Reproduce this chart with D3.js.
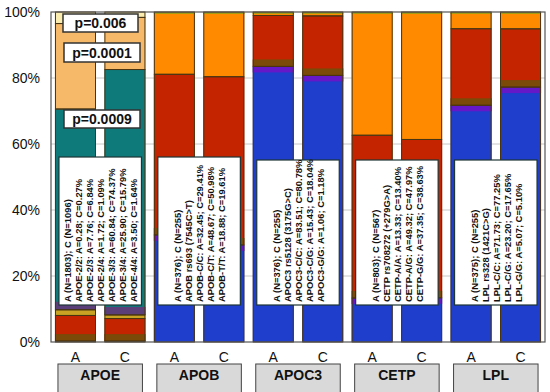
<!DOCTYPE html>
<html>
<head>
<meta charset="utf-8">
<script src="https://cdn.jsdelivr.net/npm/d3@7"></script>
<style>
  body { margin: 0; background: #fff; }
  svg { display: block; font-family: "Liberation Sans", Arial, sans-serif; }
</style>
</head>
<body>
<svg width="550" height="392"></svg>
<script>
"use strict";

// data
const genes = ['APOE', 'APOB', 'APOC3', 'CETP', 'LPL'];
const cohorts = ['A', 'C'];
const yTicks = [0, 0.2, 0.4, 0.6, 0.8, 1];

const apoeA = [0.28, 7.76, 1.72, 60.84, 25.90, 3.50];
const apoeC = [0.27, 6.84, 1.09, 74.37, 15.79, 1.64];
const apobA = [32.45, 48.67, 18.88];
const apobC = [29.41, 50.98, 19.61];
const apoc3A = [83.51, 15.43, 1.06];
const apoc3C = [80.78, 18.04, 1.18];
const cetpA = [13.33, 49.32, 37.35];
const cetpC = [13.40, 47.97, 38.63];
const lplA = [71.73, 23.20, 5.07];
const lplC = [77.25, 17.65, 5.10];

const apoeNotes = ['A (N=1803); C (N=1096)', 'APOE-2/2: A=0.28; C=0.27%', 'APOE-2/3: A=7.76; C=6.84%',
  'APOE-2/4: A=1.72; C=1.09%', 'APOE-3/3: A=60.84; C=74.37%', 'APOE-3/4: A=25.90; C=15.79%',
  'APOE-4/4: A=3.50; C=1.64%'];
const apobNotes = ['A (N=376); C (N=255)', 'APOB rs693 (7545C>T)', 'APOB-C/C: A=32.45; C=29.41%',
  'APOB-C/T: A=48.67; C=50.98%', 'APOB-T/T: A=18.88; C=19.61%'];
const apoc3Notes = ['A (N=376); C (N=255)', 'APOC3 rs5128 (3175G>C)', 'APOC3-C/C: A=83.51; C=80.78%',
  'APOC3-C/G: A=15.43; C=18.04%', 'APOC3-G/G: A=1.06; C=1.18%'];
const cetpNotes = ['A (N=803); C (N=567)', 'CETP rs708272 (+279G>A)', 'CETP-A/A: A=13.33; C=13.40%',
  'CETP-A/G: A=49.32; C=47.97%', 'CETP-G/G: A=37.35; C=38.63%'];
const lplNotes = ['A (N=375); C (N=255)', 'LPL rs328 (1421C>G)', 'LPL-C/C: A=71.73; C=77.25%',
  'LPL-C/G: A=23.20; C=17.65%', 'LPL-G/G: A=5.07; C=5.10%'];

const pLabels = ['p=0.006', 'p=0.0001', 'p=0.0009'];

// colours (bottom segment first)
const apoeColors = ['#6e4c0c', '#c42400', '#c9a424', '#0f7a7a', '#f6b96a', '#f9ecae'];
const threeColors = ['#1f3ecc', '#c42400', '#ff8a00'];
const shade = { '#c42400': ['bottom', '#7c4a08', 7], '#1f3ecc': ['top', '#6418c8', 6],
  '#0f7a7a': ['bottom', '#5a3f78', 8], '#ff8a00': ['top', '#a49c12', 2] };

const geneData = [
  { gene: 'APOE', A: apoeA, C: apoeC, colors: apoeColors, notes: apoeNotes },
  { gene: 'APOB', A: apobA, C: apobC, colors: threeColors, notes: apobNotes },
  { gene: 'APOC3', A: apoc3A, C: apoc3C, colors: threeColors, notes: apoc3Notes },
  { gene: 'CETP', A: cetpA, C: cetpC, colors: threeColors, notes: cetpNotes },
  { gene: 'LPL', A: lplA, C: lplC, colors: threeColors, notes: lplNotes }
];

const svg = d3.select('svg');
const plotLeft = 51, plotRight = 545, plotTop = 12, plotBottom = 342;

const bars = genes.flatMap(g => cohorts.map(c => g + '-' + c));
const x = d3.scaleBand().domain(bars).range([plotLeft, plotRight])
  .paddingInner(0.17).paddingOuter(0.08);
const y = d3.scaleLinear().domain([0, 1]).range([plotBottom, plotTop]);

// grid
svg.append('g').selectAll('line').data(yTicks.slice(1, -1)).join('line')
  .attr('x1', plotLeft).attr('x2', plotRight)
  .attr('y1', d => y(d)).attr('y2', d => y(d))
  .attr('stroke', '#c8c8c8');

// y labels
svg.append('g').selectAll('text').data(yTicks).join('text')
  .attr('x', 40).attr('y', d => y(d)).attr('dy', '0.35em')
  .attr('text-anchor', 'end').attr('font-size', 14).attr('fill', '#111')
  .text(d3.format('.0%'));

// stacked bars
geneData.forEach(gd => {
  cohorts.forEach(c => {
    const vals = gd[c];
    const total = d3.sum(vals);
    let acc = 0;
    const segs = vals.map((v, i) => {
      const s = { y0: acc / total, y1: (acc + v) / total, color: gd.colors[i] };
      acc += v;
      return s;
    });
    const bx = x(gd.gene + '-' + c), bw = x.bandwidth();
    const g = svg.append('g');
    segs.forEach(s => {
      const top = y(s.y1), bot = y(s.y0);
      g.append('rect').attr('x', bx).attr('y', top).attr('width', bw).attr('height', bot - top)
        .attr('fill', s.color);
      const sh = shade[s.color];
      if (sh) {
        const h = Math.min(sh[2], bot - top);
        g.append('rect').attr('x', bx).attr('width', bw)
          .attr('y', sh[0] === 'top' ? top : bot - h).attr('height', h)
          .attr('fill', sh[1]);
      }
    });
    segs.forEach(s => {
      g.append('rect').attr('x', bx + 0.5).attr('y', y(s.y1)).attr('width', bw - 1)
        .attr('height', y(s.y0) - y(s.y1))
        .attr('fill', 'none').attr('stroke', '#4a3512').attr('stroke-width', 1);
    });
  });
});

// frame
svg.append('rect').attr('x', plotLeft).attr('y', plotTop)
  .attr('width', plotRight - plotLeft).attr('height', plotBottom - plotTop)
  .attr('fill', 'none').attr('stroke', '#555').attr('stroke-width', 1.2);

// note boxes
geneData.forEach((gd, gi) => {
  const left = x(gd.gene + '-A') + 4;
  const right = x(gd.gene + '-C') + x.bandwidth() - 4;
  const top = gi < 2 ? 157 : 160, bottom = 305;
  svg.append('rect').attr('x', left).attr('y', top).attr('width', right - left).attr('height', bottom - top)
    .attr('fill', '#fff').attr('stroke', '#1d3535').attr('stroke-width', 1.2);
  const cx = (left + right) / 2;
  const n = gd.notes.length, lh = 11;
  svg.append('g').selectAll('text').data(gd.notes).join('text')
    .attr('transform', (d, i) => `translate(${cx + (i - (n - 1) / 2) * lh + 4}, ${bottom - 3}) rotate(-90)`)
    .attr('font-size', 9.4).attr('font-weight', 'bold').attr('fill', '#111')
    .text(d => d);
});

// p-value boxes
const pBoxes = [[63, 14, 75, 18], [64, 43, 76, 19], [64, 110, 76, 18]];
pLabels.forEach((p, i) => {
  const [bx, by, bw, bh] = pBoxes[i];
  svg.append('rect').attr('x', bx).attr('y', by).attr('width', bw).attr('height', bh)
    .attr('fill', '#fff').attr('stroke', '#333').attr('stroke-width', 1.5);
  svg.append('text').attr('x', bx + bw / 2).attr('y', by + bh / 2).attr('dy', '0.36em')
    .attr('text-anchor', 'middle').attr('font-size', 14).attr('font-weight', 'bold').attr('fill', '#111')
    .text(p);
});

// A / C labels
svg.append('g').selectAll('text').data(bars).join('text')
  .attr('x', d => x(d) + x.bandwidth() / 2).attr('y', 362)
  .attr('text-anchor', 'middle').attr('font-size', 14).attr('fill', '#111')
  .text(d => d.split('-')[1]);

// gene boxes
genes.forEach(gn => {
  const left = x(gn + '-A') + 3;
  const right = x(gn + '-C') + x.bandwidth() - 3;
  svg.append('rect').attr('x', left).attr('y', 364).attr('width', right - left).attr('height', 30)
    .attr('fill', '#d9d9d9').attr('stroke', '#444').attr('stroke-width', 1);
  svg.append('text').attr('x', (left + right) / 2).attr('y', 380)
    .attr('text-anchor', 'middle').attr('font-size', 14).attr('font-weight', 'bold').attr('fill', '#111')
    .text(gn);
});
</script>
</body>
</html>
